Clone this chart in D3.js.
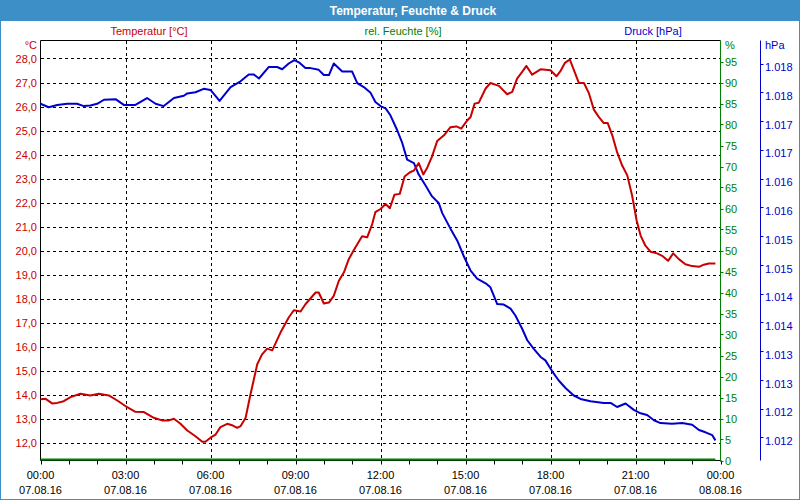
<!DOCTYPE html>
<html><head><meta charset="utf-8">
<script src="https://cdn.jsdelivr.net/npm/d3@7"></script>
<style>
html,body{margin:0;padding:0;background:#fff;}
svg{display:block;}
text{font-family:"Liberation Sans",Arial,sans-serif;}
</style></head>
<body>
<script>
const chartTitle = "Temperatur, Feuchte & Druck";
const seriesNames = ["Temperatur [°C]", "rel. Feuchte [%]", "Druck [hPa]"];
const unitLabels = ["°C", "%", "hPa"];
const timeTicks = [0, 3, 6, 9, 12, 15, 18, 21, 24];
const timeLabels = ["00:00","03:00","06:00","09:00","12:00","15:00","18:00","21:00","00:00"];
const dateLabels = ["07.08.16","07.08.16","07.08.16","07.08.16","07.08.16","07.08.16","07.08.16","07.08.16","08.08.16"];
const tempTicks = [12,13,14,15,16,17,18,19,20,21,22,23,24,25,26,27,28];
const humTicks = [0,5,10,15,20,25,30,35,40,45,50,55,60,65,70,75,80,85,90,95];
const pressTicks = [1.0180,1.0175,1.0170,1.0165,1.0160,1.0155,1.0150,1.0145,1.0140,1.0135,1.0130,1.0125,1.0120,1.0115];
const pressTickLabels = ["1.018","1.018","1.017","1.017","1.016","1.016","1.015","1.015","1.014","1.014","1.013","1.013","1.012","1.012"];

const tempHours = [0,0.18,0.41,0.59,0.82,1.06,1.41,1.76,2.06,2.41,2.71,3.06,3.35,3.65,4.0,4.29,4.53,4.71,4.94,5.18,5.47,5.71,5.82,6.0,6.18,6.35,6.59,6.76,6.94,7.06,7.24,7.41,7.65,7.82,8.0,8.18,8.47,8.76,8.94,9.18,9.35,9.71,9.82,10.0,10.18,10.35,10.53,10.71,10.88,11.06,11.35,11.53,11.71,11.82,12.0,12.18,12.33,12.49,12.68,12.85,13.04,13.18,13.35,13.51,13.65,13.82,14.0,14.24,14.47,14.68,14.85,15.06,15.18,15.32,15.47,15.71,15.88,16.18,16.47,16.65,16.82,17.0,17.15,17.35,17.65,18.0,18.21,18.35,18.51,18.68,18.85,19.0,19.18,19.35,19.53,19.71,19.88,20.02,20.18,20.35,20.53,20.71,20.88,21.04,21.18,21.35,21.53,21.76,21.94,22.15,22.33,22.53,22.76,23.0,23.24,23.41,23.59,23.82];
const tempValues = [13.8,13.82,13.63,13.65,13.72,13.89,14.03,13.96,14.03,13.96,13.75,13.47,13.28,13.27,13.03,12.92,12.92,12.99,12.78,12.5,12.26,12.03,12.03,12.2,12.33,12.64,12.78,12.72,12.61,12.68,13.03,14.0,15.26,15.67,15.91,15.84,16.58,17.21,17.51,17.46,17.76,18.25,18.25,17.79,17.83,18.11,18.74,19.09,19.64,20.02,20.59,20.55,21.11,21.6,21.73,21.94,21.76,22.32,22.36,23.08,23.26,23.33,23.64,23.17,23.45,23.92,24.56,24.80,25.14,25.17,25.08,25.42,25.56,26.12,26.16,26.75,26.98,26.86,26.51,26.61,27.16,27.44,27.69,27.33,27.55,27.51,27.26,27.47,27.82,27.96,27.44,26.98,26.98,26.57,25.87,25.56,25.31,25.31,24.80,24.10,23.54,23.13,22.29,21.25,20.62,20.20,19.95,19.88,19.78,19.57,19.88,19.64,19.43,19.35,19.32,19.41,19.46,19.46];

const humHours = [0, 23.82];
const humValues = [0, 0];

const pressHours = [0,0.29,0.59,0.94,1.29,1.53,1.76,2.0,2.24,2.65,2.94,3.35,3.76,4.06,4.35,4.71,5.06,5.18,5.47,5.76,6.0,6.32,6.71,7.06,7.35,7.53,7.71,8.06,8.35,8.53,8.76,8.96,9.12,9.35,9.53,9.82,10.0,10.18,10.35,10.65,11.0,11.18,11.41,11.65,11.82,12.0,12.18,12.35,12.59,12.76,12.94,13.18,13.35,13.59,13.82,14.06,14.18,14.47,14.71,14.94,15.18,15.41,15.71,15.88,16.12,16.35,16.59,16.76,17.0,17.18,17.41,17.65,17.82,18.06,18.29,18.53,18.82,19.06,19.41,19.88,20.12,20.35,20.65,20.94,21.18,21.41,21.65,21.88,22.29,22.65,23.0,23.24,23.47,23.71,23.82];
const pressValues = [1.01730,1.01724,1.01728,1.01730,1.01730,1.01726,1.01727,1.01730,1.01737,1.01738,1.01728,1.01728,1.01740,1.01730,1.01726,1.01740,1.01744,1.01748,1.01750,1.01756,1.01754,1.01735,1.01759,1.01769,1.01781,1.01781,1.01774,1.01794,1.01794,1.01790,1.01800,1.01806,1.01802,1.01792,1.01792,1.01789,1.01780,1.01780,1.01800,1.01786,1.01786,1.01766,1.01759,1.01749,1.01733,1.01726,1.01722,1.01710,1.01684,1.01663,1.01633,1.01627,1.01607,1.01588,1.01569,1.01557,1.01540,1.01513,1.01492,1.01465,1.01440,1.01426,1.01418,1.01411,1.01382,1.01381,1.01374,1.01362,1.01339,1.01319,1.01304,1.01290,1.01284,1.01265,1.01249,1.01236,1.01223,1.01217,1.01213,1.01210,1.01210,1.01203,1.01209,1.01198,1.01192,1.01189,1.01180,1.01175,1.01174,1.01175,1.01172,1.01163,1.01159,1.01154,1.01145];

const W = 800, H = 500;
const RED = "#c80000", GREEN = "#008000", BLUE = "#0000cc", FRAME = "#3d8fc8";
const L = 40.5, R = 720.5, T = 40.5, B = 460.5;

const svg = d3.select("body").append("svg").attr("width", W).attr("height", H);

// frame + title bar
svg.append("rect").attr("x",0.5).attr("y",0.5).attr("width",W-1).attr("height",H-1)
  .attr("fill","#fff").attr("stroke",FRAME).attr("stroke-width",1);
svg.append("rect").attr("x",0).attr("y",0).attr("width",W).attr("height",21).attr("fill",FRAME);
svg.append("text").attr("x",413).attr("y",14.5).attr("text-anchor","middle")
  .attr("fill","#fff").attr("font-weight","bold").attr("font-size","12px").text(chartTitle);

const x = d3.scaleLinear().domain([0,24]).range([L,R]);
const yT = d3.scaleLinear().domain([11.25,28.75]).range([B,T]);
const yH = d3.scaleLinear().domain([0,100]).range([B,T]);
const yP = d3.scaleLinear().domain([1.0111,1.0184]).range([B,T]);

// series header labels
const hdr = [[149,RED],[403,GREEN],[653,BLUE]];
seriesNames.forEach((n,i)=>{
  svg.append("text").attr("x",hdr[i][0]).attr("y",35).attr("text-anchor","middle")
    .attr("font-size","11px").attr("fill",hdr[i][1]).text(n);
});

// grid
const grid = svg.append("g").attr("stroke","#000").attr("stroke-width",1).attr("stroke-dasharray","3,3").attr("shape-rendering","crispEdges");
tempTicks.forEach(t=>{
  const yy = Math.round(yT(t))+0.5;
  grid.append("line").attr("x1",L).attr("x2",R).attr("y1",yy).attr("y2",yy);
});
timeTicks.slice(1,-1).forEach(h=>{
  const xx = Math.round(x(h))+0.5;
  grid.append("line").attr("x1",xx).attr("x2",xx).attr("y1",T).attr("y2",B);
});

// left temperature axis labels
const gT = svg.append("g");
tempTicks.forEach(t=>{
  gT.append("text").attr("x",37).attr("y",yT(t)).attr("dy","0.42em").attr("text-anchor","end")
    .attr("font-size","11px").attr("fill",RED).text(t.toFixed(1).replace(".",","));
});
svg.append("text").attr("x",37).attr("y",49).attr("text-anchor","end").attr("font-size","11px").attr("fill",RED).text(unitLabels[0]);

// x axis ticks & labels
const xt = d3.range(0,25);
xt.forEach(h=>{
  const xx = Math.round(x(h))+0.5;
  svg.append("line").attr("x1",xx).attr("x2",xx).attr("y1",B).attr("y2",B+4).attr("stroke","#000");
});
timeTicks.forEach((h,i)=>{
  svg.append("text").attr("x",x(h)).attr("y",479).attr("text-anchor","middle").attr("font-size","11px").attr("fill","#000").text(timeLabels[i]);
  svg.append("text").attr("x",x(h)).attr("y",494).attr("text-anchor","middle").attr("font-size","11px").attr("fill","#000").text(dateLabels[i]);
});

// plot frame
svg.append("line").attr("x1",L).attr("x2",R).attr("y1",T).attr("y2",T).attr("stroke","#000");
svg.append("line").attr("x1",L).attr("x2",L).attr("y1",T).attr("y2",B).attr("stroke","#000");
svg.append("line").attr("x1",L).attr("x2",R).attr("y1",B).attr("y2",B).attr("stroke","#000");

// humidity axis (right, green)
svg.append("line").attr("x1",R).attr("x2",R).attr("y1",T).attr("y2",B+1).attr("stroke",GREEN);
humTicks.forEach(v=>{
  const yy = Math.round(yH(v))+0.5;
  svg.append("line").attr("x1",R).attr("x2",R+3).attr("y1",yy).attr("y2",yy).attr("stroke",GREEN);
  svg.append("text").attr("x",725).attr("y",yH(v)).attr("dy","0.42em").attr("font-size","11px").attr("fill",GREEN).text(v);
});
svg.append("text").attr("x",725).attr("y",49).attr("font-size","11px").attr("fill",GREEN).text(unitLabels[1]);

// pressure axis (far right, blue)
const PX = 760.5;
svg.append("line").attr("x1",PX).attr("x2",PX).attr("y1",T).attr("y2",B).attr("stroke",BLUE);
pressTicks.forEach((v,i)=>{
  const yy = Math.round(yP(v))+0.5;
  svg.append("line").attr("x1",PX).attr("x2",PX+3).attr("y1",yy).attr("y2",yy).attr("stroke",BLUE);
  svg.append("text").attr("x",765).attr("y",yP(v)+3).attr("dy","0.42em").attr("font-size","11px").attr("fill",BLUE).text(pressTickLabels[i]);
});
svg.append("text").attr("x",765).attr("y",49).attr("font-size","11px").attr("fill",BLUE).text(unitLabels[2]);

// series lines
const tempData = d3.zip(tempHours, tempValues);
const humData = d3.zip(humHours, humValues);
const pressData = d3.zip(pressHours, pressValues);

svg.append("path").datum(humData)
  .attr("d", d3.line().x(d=>x(d[0])).y(d=>yH(d[1])-1))
  .attr("fill","none").attr("stroke",GREEN).attr("stroke-width",2);
svg.append("path").datum(pressData)
  .attr("d", d3.line().x(d=>x(d[0])).y(d=>yP(d[1])))
  .attr("fill","none").attr("stroke",BLUE).attr("stroke-width",2).attr("stroke-linejoin","round");
svg.append("path").datum(tempData)
  .attr("d", d3.line().x(d=>x(d[0])).y(d=>yT(d[1])))
  .attr("fill","none").attr("stroke",RED).attr("stroke-width",2).attr("stroke-linejoin","round");
</script>
</body></html>
